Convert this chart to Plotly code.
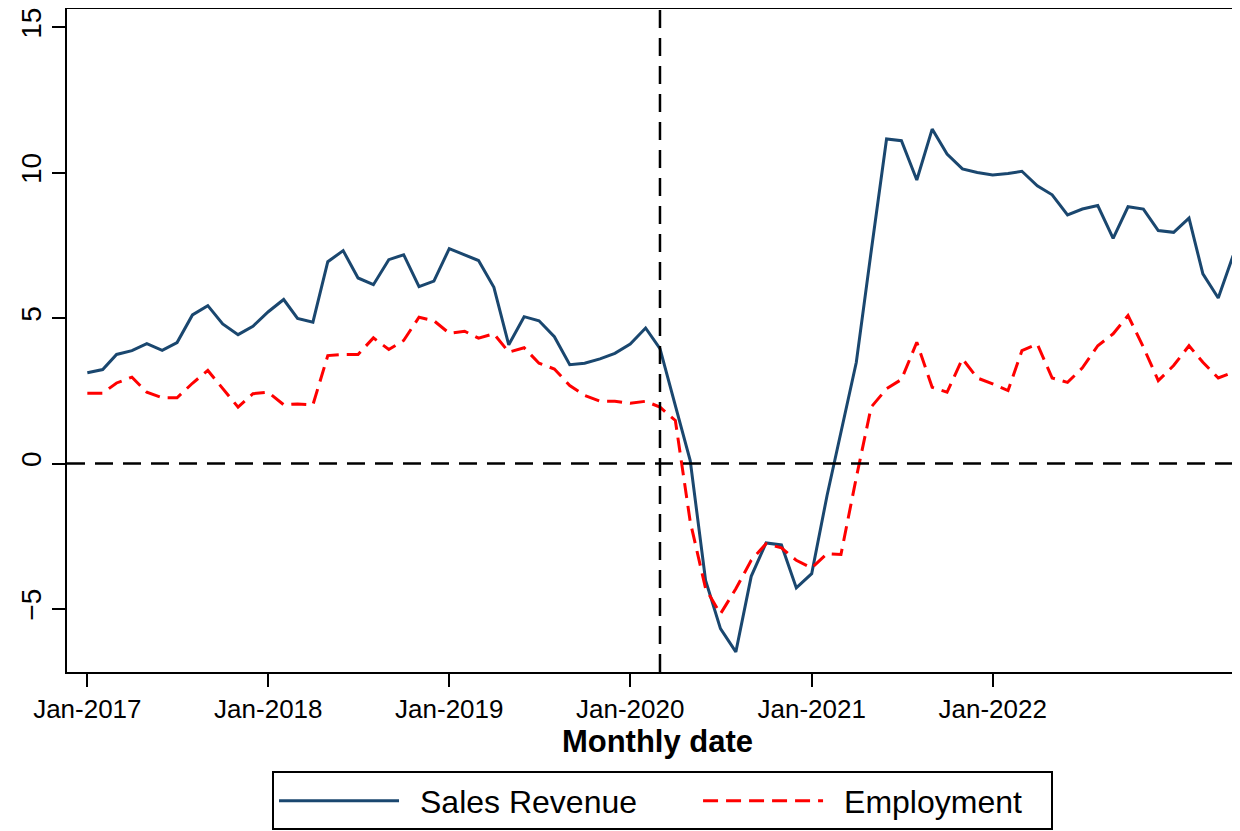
import pandas as pd
import plotly.graph_objects as go

# monthly series, Jan-2017 .. May-2023
months = pd.date_range("2017-01-01", periods=77, freq="MS")

sales_revenue = [
    3.12, 3.23, 3.75, 3.88, 4.12, 3.89, 4.16, 5.11, 5.43, 4.80,
    4.43, 4.72, 5.22, 5.64, 4.99, 4.86, 6.94, 7.32, 6.38, 6.15,
    7.01, 7.18, 6.08, 6.27, 7.39, 7.18, 6.98, 6.06, 4.08, 5.05,
    4.91, 4.36, 3.40, 3.45, 3.60, 3.79, 4.11, 4.66, 3.95, 1.99,
    0.10, -4.02, -5.68, -6.48, -3.88, -2.73, -2.80, -4.28, -3.79, -1.10,
    1.13, 3.48, 7.30, 11.16, 11.10, 9.75, 11.50, 10.64, 10.13, 10.01,
    9.92, 9.97, 10.05, 9.55, 9.24, 8.55, 8.75, 8.87, 7.74, 8.83,
    8.75, 8.01, 7.95, 8.44, 6.52, 5.69, 7.15,
]

employment = [
    2.42, 2.42, 2.77, 2.97, 2.45, 2.26, 2.26, 2.76, 3.20, 2.59,
    1.94, 2.40, 2.45, 2.02, 2.05, 2.02, 3.71, 3.75, 3.75, 4.32,
    3.92, 4.23, 5.03, 4.91, 4.48, 4.55, 4.31, 4.46, 3.83, 3.98,
    3.45, 3.25, 2.68, 2.34, 2.14, 2.14, 2.07, 2.14, 1.94, 1.48,
    -2.00, -4.30, -5.17, -4.31, -3.33, -2.76, -2.90, -3.33, -3.59, -3.10,
    -3.13, -0.48, 1.94, 2.57, 2.89, 4.17, 2.62, 2.45, 3.60, 2.94,
    2.74, 2.51, 3.88, 4.11, 2.94, 2.79, 3.29, 4.05, 4.46, 5.09,
    4.00, 2.85, 3.37, 4.05, 3.48, 2.94, 3.14,
]

x_ticks = pd.date_range("2017-01-01", "2022-01-01", freq="YS")
y_ticks = [-5, 0, 5, 10, 15]
grid_ticks = [-5, 0, 5, 10]   # no grid line at 15 in the original
covid_start = "2020-03-01"
y_range = [-7.17, 15.63]

FONT = "Liberation Sans, Arial, sans-serif"
# spacing inside the legend: key -> label, between entries, right padding
GAP = "\u2002"
TAIL = "\u2003\u2002\u2005"
PAD = "\u2002\u2005"

fig = go.Figure()
# traces live on y2 (labelled axis); plain y only carries the grid underneath
fig.add_trace(go.Scatter(
    x=months, y=sales_revenue, mode="lines", name=GAP + "Sales Revenue" + TAIL,
    yaxis="y2", line=dict(color="#1a476f", width=3),
))
fig.add_trace(go.Scatter(
    x=months, y=employment, mode="lines", name=GAP + "Employment" + PAD,
    yaxis="y2", line=dict(color="#ff0000", width=3, dash="15px,8px"),
))

# reference lines: zero and start of the pandemic
fig.add_shape(type="line", xref="paper", yref="y2", x0=0, x1=1, y0=0, y1=0,
              line=dict(color="black", width=2.5, dash="18px,10px"))
fig.add_shape(type="line", xref="x", yref="paper", x0=covid_start, x1=covid_start,
              y0=0, y1=1, line=dict(color="black", width=2.5, dash="18px,10px"))

# the page body has an 8px margin, so the frame is shifted up/left by that much
fig.update_layout(
    width=1240, height=831,
    paper_bgcolor="white", plot_bgcolor="white",
    font=dict(family=FONT, color="black", size=26),
    margin=dict(t=1, r=0, b=167, l=59, autoexpand=False),
    showlegend=True,
    legend=dict(
        orientation="h", x=0.1736, xanchor="left", y=-0.150, yanchor="top",
        bordercolor="black", borderwidth=2, bgcolor="white",
        font=dict(size=32, family=FONT), itemwidth=120,
    ),
    xaxis=dict(
        range=["2016-11-21", "2023-05-31"],
        tickvals=x_ticks, tickformat="%b-%Y",
        ticks="outside", ticklen=13, tickwidth=2, tickcolor="black",
        showline=True, linecolor="black", linewidth=2, mirror=True,
        showgrid=False, zeroline=False, automargin=False,
        title=dict(text="<b>Monthly date</b>", font=dict(size=31), standoff=4),
    ),
    yaxis=dict(
        range=y_range,
        tickvals=grid_ticks, showticklabels=False, ticks="",
        showgrid=True, gridcolor="#dcdcdc", gridwidth=2,
        zeroline=False, showline=False, automargin=False,
    ),
    yaxis2=dict(
        overlaying="y", side="left", range=y_range,
        tickvals=y_ticks, tickangle=-90, tickfont=dict(size=28),
        ticklabeloverflow="allow",
        ticks="outside", ticklen=13, tickwidth=2, tickcolor="black",
        showline=True, linecolor="black", linewidth=2,
        showgrid=False, zeroline=False, automargin=False,
    ),
)

fig.write_html("out.html")
